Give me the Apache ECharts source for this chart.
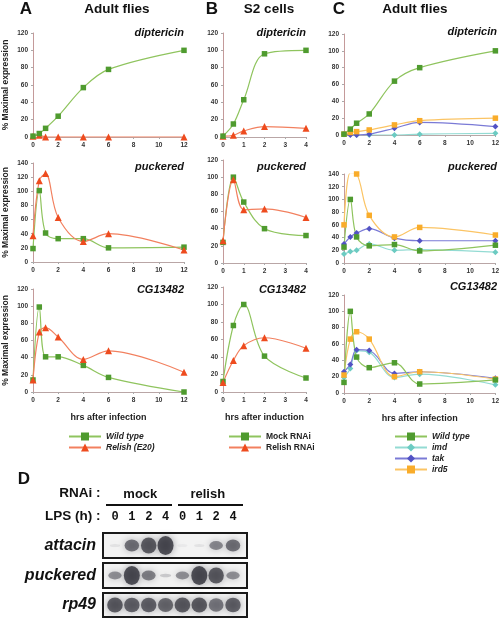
<!DOCTYPE html>
<html><head><meta charset="utf-8">
<script src="https://cdn.jsdelivr.net/npm/echarts@6/dist/echarts.min.js"></script>
<style>html,body{margin:0;padding:0;background:#fff}#c{width:502px;height:619px}</style>
</head><body><div id="c"></div>
<script>
// ---------- DATA ----------
const timesAdult = [0, 0.5, 1, 2, 4, 6, 12];
const timesS2 = [0, 0.5, 1, 2, 4];

// Panel A (adult flies): Wild type vs Relish (E20)
const A_dipt_wt  = [1, 4, 10, 24, 57, 78, 100];
const A_dipt_rel = [1, 2, 0, 0, 0, 0, 0];
const A_puc_wt   = [19, 101, 41, 33, 33, 20, 21];
const A_puc_rel  = [37, 115, 125, 63, 29, 40, 17];
const A_cg_wt    = [14, 99, 41, 41, 31, 17, 0];
const A_cg_rel   = [14, 70, 75, 64, 38, 48, 23];

// Panel B (S2 cells): Mock RNAi vs Relish RNAi
const B_dipt_mock = [1, 15, 43, 96, 100];
const B_dipt_rel  = [1, 2, 7, 12, 10];
const B_puc_mock  = [24, 100, 71, 40, 32];
const B_puc_rel   = [26, 97, 62, 63, 53];
const B_cg_mock   = [12, 76, 100, 41, 16];
const B_cg_rel    = [11, 36, 53, 62, 50];

// Panel C (adult flies): Wild type, imd, tak, ird5
const C_dipt_wt   = [1, 7, 14, 25, 64, 80, 100];
const C_dipt_imd  = [1, 1, 0, 0, 0, 1, 2];
const C_dipt_tak  = [1, 0, 0, 1, 8, 15, 10];
const C_dipt_ird5 = [1, 3, 4, 6, 12, 17, 20];
const C_puc_wt    = [25, 100, 41, 27, 29, 19, 28];
const C_puc_imd   = [14, 18, 20, 30, 20, 21, 17];
const C_puc_tak   = [30, 41, 47, 54, 39, 35, 35];
const C_puc_ird5  = [60, 142, 140, 75, 41, 56, 44];
const C_cg_wt     = [13, 100, 44, 31, 37, 11, 16];
const C_cg_imd    = [19, 30, 52, 50, 19, 23, 10];
const C_cg_tak    = [26, 35, 53, 52, 24, 26, 18];
const C_cg_ird5   = [22, 66, 75, 66, 20, 26, 17];

// Panel D (northern blot): band intensities per lane (0..1)
const blotLanes = ['0', '1', '2', '4', '0', '1', '2', '4'];
const blotGroups = ['mock', 'relish'];
const blot_attacin  = [0.05, 0.75, 0.9, 1.0, 0.0, 0.04, 0.6, 0.75];
const blot_puckered = [0.55, 1.0, 0.65, 0.2, 0.55, 1.0, 0.9, 0.55];
const blot_rp49     = [0.9, 0.85, 0.85, 0.8, 0.9, 0.9, 0.7, 0.85];

// ---------- STYLES / LAYOUT ----------
const FONT = '"Liberation Sans", Arial, sans-serif';
const styles = {
  'Wild type':    {sym: 'rect', size: 5.5, c: '#4f9b2f', lc: '#8fc45e'},
  'Mock RNAi':    {sym: 'rect', size: 5.5, c: '#4f9b2f', lc: '#8fc45e'},
  'Relish (E20)': {sym: 'triangle', size: 7, c: '#ee4b1e', lc: '#f2805f'},
  'Relish RNAi':  {sym: 'triangle', size: 7, c: '#ee4b1e', lc: '#f2805f'},
  'imd':          {sym: 'diamond', size: 6, c: '#6ccbc2', lc: '#93dbd3'},
  'tak':          {sym: 'diamond', size: 6, c: '#5252c4', lc: '#7a7ad6'},
  'ird5':         {sym: 'rect', size: 5.5, c: '#f9ac2a', lc: '#fbc464'}
};

const panels = [
  {g: {left: 33, top: 33, width: 151, height: 104}, t: timesAdult, xmax: 12, xi: 2, ymax: 120, gene: 'diptericin', gx: 184, gy: 33, yname: true,
   s: [['Relish (E20)', A_dipt_rel], ['Wild type', A_dipt_wt]]},
  {g: {left: 33, top: 163, width: 151, height: 99}, t: timesAdult, xmax: 12, xi: 2, ymax: 140, gene: 'puckered', gx: 184, gy: 167, yname: true,
   s: [['Wild type', A_puc_wt], ['Relish (E20)', A_puc_rel]]},
  {g: {left: 33, top: 289, width: 151, height: 103}, t: timesAdult, xmax: 12, xi: 2, ymax: 120, gene: 'CG13482', gx: 184, gy: 290, yname: true, xname: 'hrs after infection',
   s: [['Wild type', A_cg_wt], ['Relish (E20)', A_cg_rel]]},
  {g: {left: 223, top: 33, width: 83, height: 104}, t: timesS2, xmax: 4, xi: 1, ymax: 120, gene: 'diptericin', gx: 306, gy: 33,
   s: [['Relish RNAi', B_dipt_rel], ['Mock RNAi', B_dipt_mock]]},
  {g: {left: 223, top: 160, width: 83, height: 103}, t: timesS2, xmax: 4, xi: 1, ymax: 120, gene: 'puckered', gx: 306, gy: 167,
   s: [['Mock RNAi', B_puc_mock], ['Relish RNAi', B_puc_rel]]},
  {g: {left: 223, top: 287, width: 83, height: 105}, t: timesS2, xmax: 4, xi: 1, ymax: 120, gene: 'CG13482', gx: 306, gy: 290, xname: 'hrs after induction',
   s: [['Mock RNAi', B_cg_mock], ['Relish RNAi', B_cg_rel]]},
  {g: {left: 344, top: 34, width: 152, height: 101}, t: timesAdult, xmax: 12, xi: 2, ymax: 120, gene: 'diptericin', gx: 497, gy: 32,
   s: [['imd', C_dipt_imd], ['tak', C_dipt_tak], ['ird5', C_dipt_ird5], ['Wild type', C_dipt_wt]]},
  {g: {left: 344, top: 174, width: 152, height: 89}, t: timesAdult, xmax: 12, xi: 2, ymax: 140, gene: 'puckered', gx: 497, gy: 167,
   s: [['imd', C_puc_imd], ['tak', C_puc_tak], ['ird5', C_puc_ird5], ['Wild type', C_puc_wt]]},
  {g: {left: 344, top: 295, width: 152, height: 98}, t: timesAdult, xmax: 12, xi: 2, ymax: 120, gene: 'CG13482', gx: 497, gy: 287, xname: 'hrs after infection',
   s: [['imd', C_cg_imd], ['tak', C_cg_tak], ['ird5', C_cg_ird5], ['Wild type', C_cg_wt]]}
];

const grid = [], xAxis = [], yAxis = [], series = [], graphic = [];

panels.forEach((p, i) => {
  grid.push(Object.assign({containLabel: false}, p.g));
  xAxis.push({
    type: 'value', gridIndex: i, min: 0, max: p.xmax, interval: p.xi,
    axisLine: {show: true, lineStyle: {color: '#b9a6a6', width: 1}},
    axisTick: {show: true, length: 2, lineStyle: {color: '#aaa'}},
    axisLabel: {fontSize: 6.5, fontWeight: 'bold', color: '#333', margin: 5, fontFamily: FONT},
    splitLine: {show: false},
    name: p.xname || '', nameLocation: 'middle', nameGap: 21,
    nameTextStyle: {fontSize: 9, fontWeight: 'bold', color: '#222', fontFamily: FONT}
  });
  yAxis.push({
    type: 'value', gridIndex: i, min: 0, max: p.ymax, interval: 20,
    axisLine: {show: true, lineStyle: {color: '#c49a9a', width: 1}},
    axisTick: {show: true, length: 2, lineStyle: {color: '#aaa'}},
    axisLabel: {fontSize: 6.5, fontWeight: 'bold', color: '#333', margin: 5, fontFamily: FONT},
    splitLine: {show: false},
    name: p.yname ? '% Maximal expression' : '', nameLocation: 'middle', nameGap: 23, nameRotate: 90,
    nameTextStyle: {fontSize: 8.5, fontWeight: 'bold', color: '#222', fontFamily: FONT}
  });
  p.s.forEach(([name, vals]) => {
    const st = styles[name];
    series.push({
      type: 'line', name, xAxisIndex: i, yAxisIndex: i, smooth: 0.35,
      symbol: st.sym, symbolSize: st.size, showSymbol: true,
      itemStyle: {color: st.c},
      lineStyle: {color: st.lc, width: 1.2},
      data: p.t.map((t, k) => [t, vals[k]]),
      animation: false
    });
  });
  graphic.push({type: 'text', x: p.gx, y: p.gy, style: {text: p.gene, align: 'right', verticalAlign: 'middle',
    font: 'italic bold 11px ' + FONT, fill: '#111'}});
});

// Blot grids
const blotRows = [
  {name: 'attacin', vals: blot_attacin, top: 533, height: 25},
  {name: 'puckered', vals: blot_puckered, top: 563, height: 25},
  {name: 'rp49', vals: blot_rp49, top: 593, height: 24}
];
blotRows.forEach(r => {
  const gi = grid.length;
  grid.push({left: 103, top: r.top, width: 144, height: r.height, show: true,
    backgroundColor: '#f3f3f3', borderColor: '#1a1a1a', borderWidth: 2});
  xAxis.push({type: 'value', gridIndex: gi, min: -0.71, max: 7.83, show: false});
  yAxis.push({type: 'category', gridIndex: gi, data: [r.name],
    axisLine: {show: false}, axisTick: {show: false},
    axisLabel: {fontSize: 16, fontWeight: 'bold', fontStyle: 'italic', color: '#111', margin: 7, fontFamily: FONT}});
  series.push({
    type: 'scatter', xAxisIndex: gi, yAxisIndex: gi, symbol: 'circle', animation: false,
    data: r.vals.map((v, k) => [k, 0, v]),
    symbolSize: (val) => {
      const v = val[2];
      const w = r.name === 'rp49' ? 12 + 4 * v : 10 + 6 * v;
      const h = r.name === 'rp49' ? 7 + 9 * v : 3 + 16 * v * v;
      return [w, h];
    },
    itemStyle: {
      color: (pp) => 'rgba(30,30,40,' + (0.05 + 0.85 * pp.value[2]).toFixed(3) + ')',
      shadowBlur: 7, shadowColor: 'rgba(30,30,40,0.55)'
    }
  });
});

// LPS lane labels
let gi = grid.length;
grid.push({left: 106.6, top: 516, width: 134.9, height: 1});
xAxis.push({type: 'category', gridIndex: gi, data: blotLanes, position: 'bottom',
  axisLine: {show: false}, axisTick: {show: false},
  axisLabel: {fontSize: 12, fontWeight: 'bold', color: '#111', margin: 0, verticalAlign: 'middle', fontFamily: '"Liberation Mono", monospace'}});
yAxis.push({type: 'category', gridIndex: gi, data: ['LPS (h) :'],
  axisLine: {show: false}, axisTick: {show: false},
  axisLabel: {fontSize: 13.5, fontWeight: 'bold', color: '#111', margin: 6, fontFamily: FONT}});

// RNAi group labels
gi = grid.length;
grid.push({left: 106.6, top: 493, width: 134.9, height: 1});
xAxis.push({type: 'category', gridIndex: gi, data: blotGroups, position: 'bottom',
  axisLine: {show: false}, axisTick: {show: false},
  axisLabel: {fontSize: 13, fontWeight: 'bold', color: '#111', margin: 0, verticalAlign: 'middle', fontFamily: FONT}});
yAxis.push({type: 'category', gridIndex: gi, data: ['RNAi :'],
  axisLine: {show: false}, axisTick: {show: false},
  axisLabel: {fontSize: 13.5, fontWeight: 'bold', color: '#111', margin: 6, fontFamily: FONT}});

graphic.push(
  {type: 'line', shape: {x1: 106, y1: 505, x2: 172, y2: 505}, style: {stroke: '#111', lineWidth: 2}},
  {type: 'line', shape: {x1: 178, y1: 505, x2: 243, y2: 505}, style: {stroke: '#111', lineWidth: 2}},
  {type: 'text', x: 26, y: 9, style: {text: 'A', align: 'center', verticalAlign: 'middle', font: 'bold 17px ' + FONT, fill: '#111'}},
  {type: 'text', x: 117, y: 9, style: {text: 'Adult flies', align: 'center', verticalAlign: 'middle', font: 'bold 13.5px ' + FONT, fill: '#111'}},
  {type: 'text', x: 212, y: 9, style: {text: 'B', align: 'center', verticalAlign: 'middle', font: 'bold 17px ' + FONT, fill: '#111'}},
  {type: 'text', x: 269, y: 9, style: {text: 'S2 cells', align: 'center', verticalAlign: 'middle', font: 'bold 13.5px ' + FONT, fill: '#111'}},
  {type: 'text', x: 339, y: 9, style: {text: 'C', align: 'center', verticalAlign: 'middle', font: 'bold 17px ' + FONT, fill: '#111'}},
  {type: 'text', x: 415, y: 9, style: {text: 'Adult flies', align: 'center', verticalAlign: 'middle', font: 'bold 13.5px ' + FONT, fill: '#111'}},
  {type: 'text', x: 24, y: 479, style: {text: 'D', align: 'center', verticalAlign: 'middle', font: 'bold 17px ' + FONT, fill: '#111'}}
);

const legendBase = {orient: 'vertical', top: 427, itemWidth: 32, itemHeight: 10, itemGap: 2,
  selectedMode: false, lineStyle: {width: 2}};
const legend = [
  Object.assign({}, legendBase, {left: 63, data: ['Wild type', 'Relish (E20)'],
    textStyle: {fontSize: 8.5, fontWeight: 'bold', fontStyle: 'italic', color: '#222', fontFamily: FONT}}),
  Object.assign({}, legendBase, {left: 223, data: ['Mock RNAi', 'Relish RNAi'],
    textStyle: {fontSize: 8.5, fontWeight: 'bold', color: '#222', fontFamily: FONT}}),
  Object.assign({}, legendBase, {left: 389, data: ['Wild type', 'imd', 'tak', 'ird5'],
    textStyle: {fontSize: 8.5, fontWeight: 'bold', fontStyle: 'italic', color: '#222', fontFamily: FONT}})
];

const chart = echarts.init(document.getElementById('c'), null, {renderer: 'canvas'});
chart.setOption({
  backgroundColor: '#ffffff',
  animation: false,
  textStyle: {fontFamily: FONT},
  grid, xAxis, yAxis, series, legend, graphic
});
</script>
</body></html>
